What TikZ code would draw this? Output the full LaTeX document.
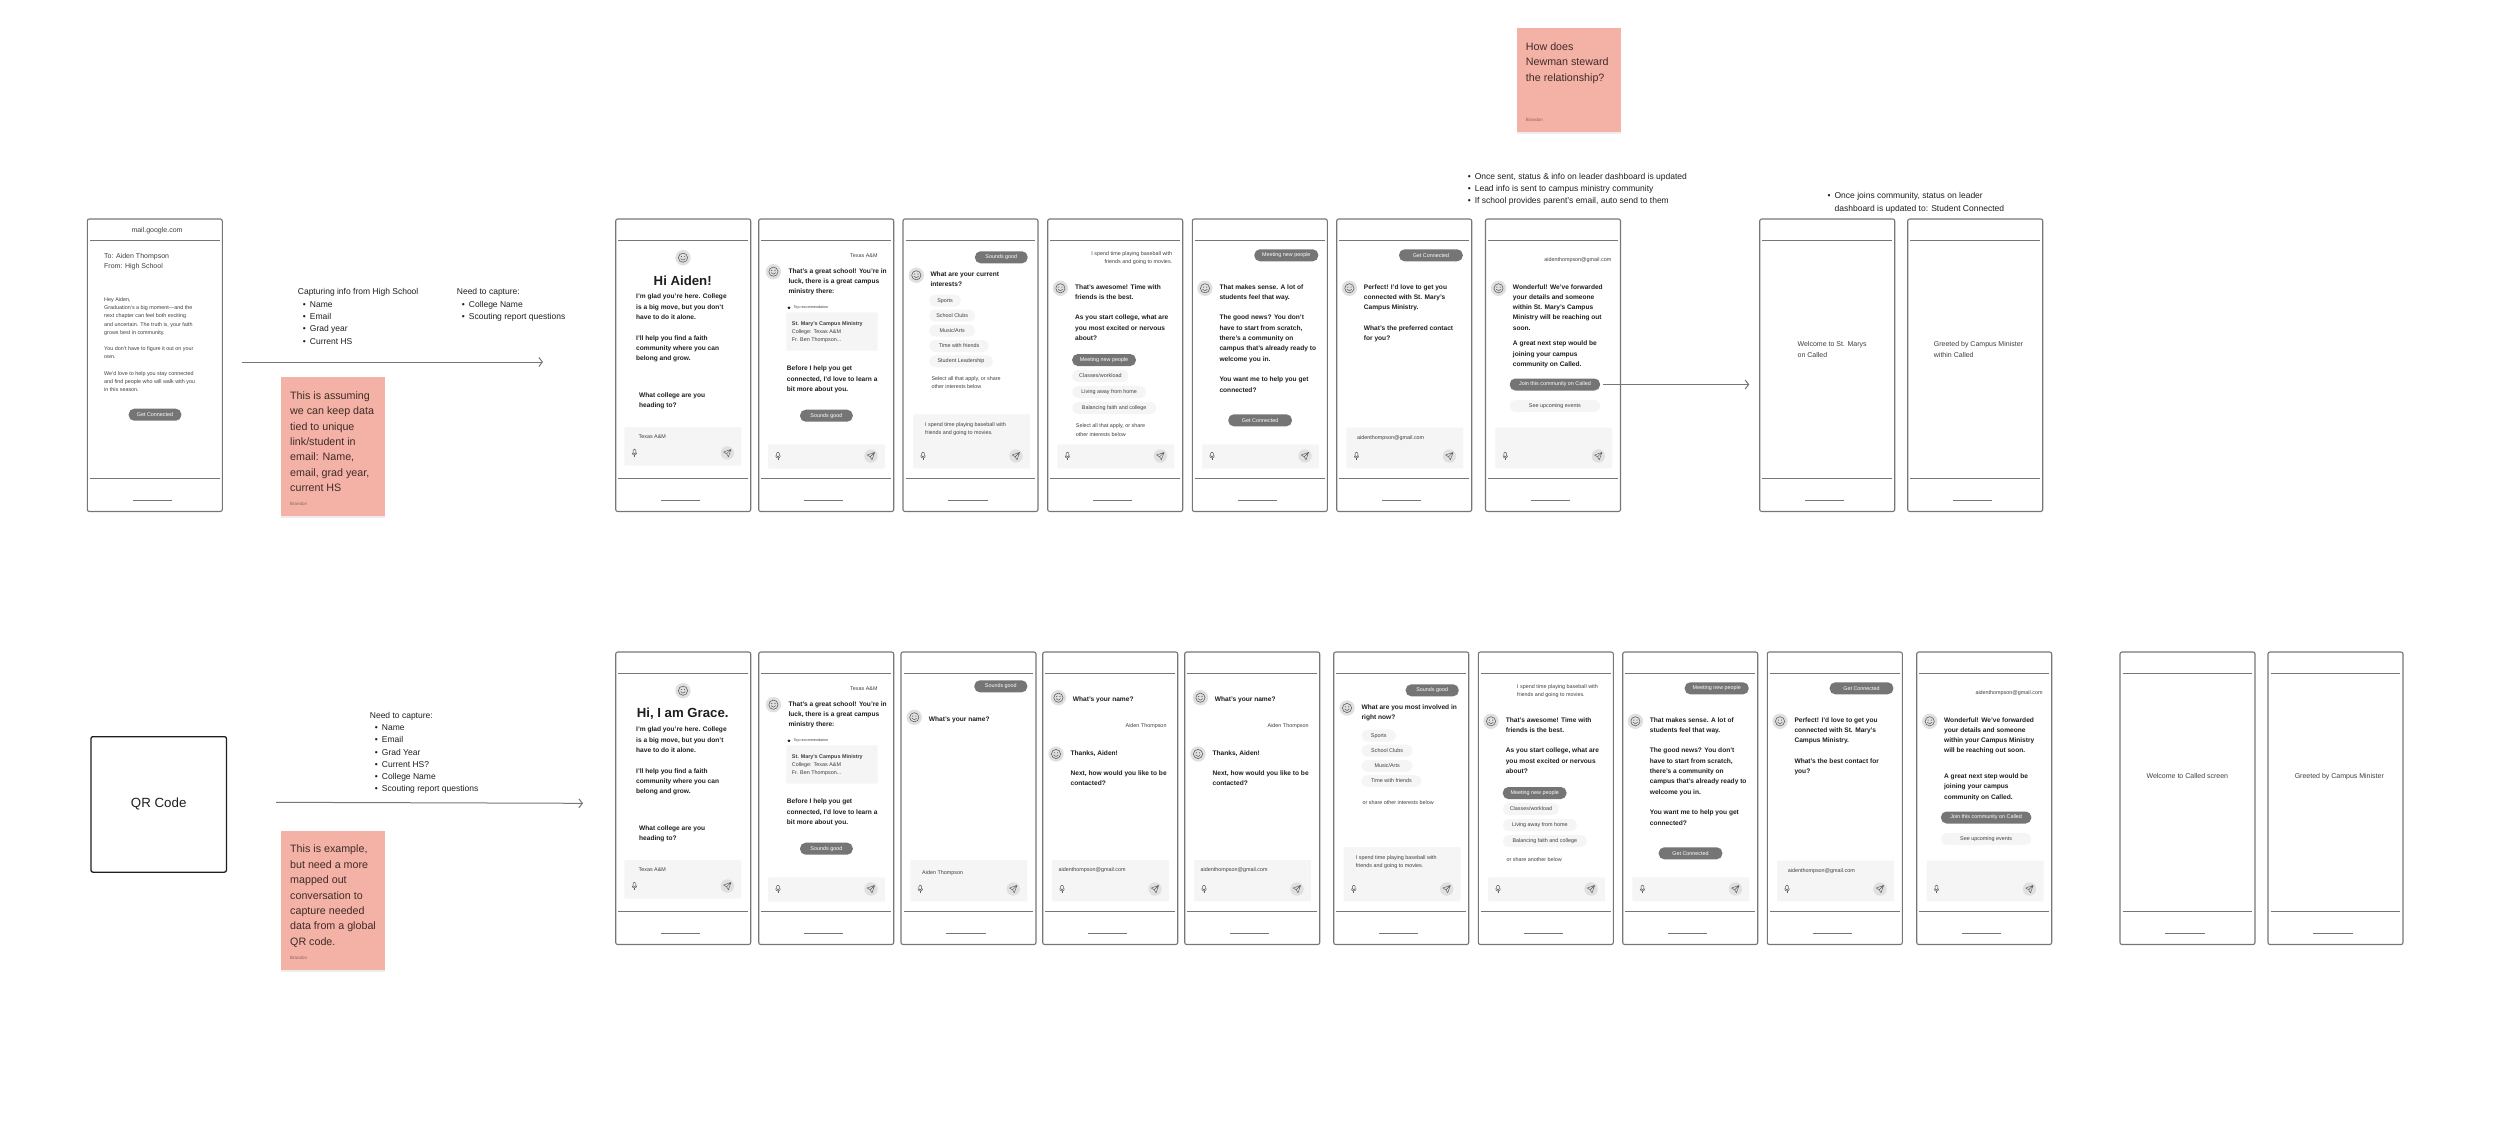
\documentclass[tikz,border=0pt]{standalone}
\usepackage{fontspec}
\setmainfont{Liberation Sans}
\usetikzlibrary{arrows.meta,shapes.geometric}
\definecolor{framegray}{RGB}{118,118,118}
\definecolor{btngray}{RGB}{117,117,117}
\definecolor{chipgray}{RGB}{245,245,245}
\definecolor{avatargray}{RGB}{224,224,224}
\definecolor{icongray}{RGB}{90,90,90}
\definecolor{textdark}{RGB}{30,30,30}
\definecolor{textsoft}{RGB}{62,62,62}
\definecolor{stickypink}{RGB}{244,177,165}
\definecolor{stickytext}{RGB}{62,44,42}
\definecolor{stickyname}{RGB}{140,100,94}
\tikzset{
  msgtext/.style={anchor=north west,align=left,inner sep=0pt,yshift=3.2pt,text=textdark,
    font=\fontsize{6.6}{10.3}\selectfont\bfseries,execute at begin node=\strut},
  smalltext/.style={anchor=north west,align=left,inner sep=0pt,yshift=2.3pt,text=textsoft,
    font=\fontsize{5.4}{8.2}\selectfont,execute at begin node=\strut},
  smallright/.style={smalltext,anchor=north east,align=right},
  plaintext/.style={anchor=north west,align=left,inner sep=0pt,yshift=2.2pt,text=textsoft,
    font=\fontsize{7}{10.3}\selectfont,execute at begin node=\strut},
  notetext/.style={anchor=north west,align=left,inner sep=0pt,yshift=2.2pt,text=textdark,
    font=\fontsize{8.5}{12.3}\selectfont,execute at begin node=\strut},
  titletext/.style={inner sep=0pt,text=textdark,font=\fontsize{13.2}{16}\selectfont\bfseries},
  btn/.style={fill=btngray,rounded corners=5.5pt,text=white,inner sep=0pt,minimum height=12pt,
    font=\fontsize{5.4}{8.2}\selectfont},
  chip/.style={fill=chipgray,rounded corners=5.5pt,text=textsoft,inner sep=0pt,minimum height=12pt,
    anchor=west,font=\fontsize{5.4}{8.2}\selectfont},
  chipdark/.style={chip,fill=btngray,text=white},
  sticky/.style={fill=stickypink,anchor=north west,inner sep=0pt,minimum width=103.7pt},
  stickyshade/.style={fill=black,opacity=.07},
  stickybody/.style={anchor=north west,align=left,inner sep=0pt,yshift=2.4pt,text=stickytext,
    font=\fontsize{10.7}{15.4}\selectfont,execute at begin node=\strut},
  stickyby/.style={anchor=west,inner sep=0pt,text=stickyname,font=\fontsize{4.5}{6}\selectfont},
  flow/.style={-{Straight Barb[length=3.5pt,width=9pt]},framegray,line width=1pt},
  pics/smiley/.style={code={
    \fill[avatargray] (0,0) circle (7.7);
    \draw[icongray,line width=.55pt] (0,0) circle (4.6);
    \fill[icongray] (-1.6,-1.2) circle (.6);
    \fill[icongray] (1.6,-1.2) circle (.6);
    \draw[icongray,line width=.5pt] (-2.4,.9) .. controls (-1,3) and (1,3) .. (2.4,.9);
  }},
  pics/sendicon/.style={code={
    \fill[avatargray] (0,0) circle (6.7);
    \draw[icongray,line width=.45pt,line join=round]
      (3.6,-3.6) -- (-3.8,-1) -- (-.8,.8) -- (1,3.8) -- cycle (3.6,-3.6) -- (-.8,.8);
  }},
  pics/micicon/.style={code={
    \draw[icongray,line width=.5pt,rounded corners=1.2pt] (-1.4,-3.8) rectangle (1.4,.8);
    \draw[icongray,line width=.5pt] (-2.4,-.4) .. controls (-2.4,2.8) and (2.4,2.8) .. (2.4,-.4);
    \draw[icongray,line width=.5pt] (0,2) -- (0,3.9);
  }},
}
\newcommand{\phoneframe}{%
  \draw[framegray,line width=1.1pt,rounded corners=2pt] (0,0) rectangle (135,292.5);
  \draw[framegray,line width=1pt] (2.7,21.3) -- (132.3,21.3);
  \draw[framegray,line width=1pt] (2.7,259.2) -- (132.3,259.2);
  \draw[framegray,line width=.8pt] (45.3,281) -- (84.7,281);
}
\newcommand{\inputbar}[4]{%
  \fill[chipgray,rounded corners=1pt] (#1,#2) rectangle (#1+117,#3);
  \pic at (#1+10,#4) {micicon};
  \pic at (#1+103,#4) {sendicon};
}
\newcommand{\bul}[1]{\hspace*{5pt}\makebox[7pt][l]{\textbullet}#1}
% Screens that come back in both flows
\newcommand{\welcomescreen}[2]{%
  \pic at (67.3,38.7) {smiley};
  \node[titletext] (#1title) at (67,61.3) {#2};
  \node[msgtext] (#1intro) at (20.3,78.2)
    {I'm glad you're here. College\\is a big move, but you don't\\have to do it alone.\\[10.3pt]
     I'll help you find a faith\\community where you can\\belong and grow.};
  \node[msgtext] (#1ask) at (23.3,176.5) {What college are you\\heading to?};
  \inputbar{8.7}{208}{246.5}{234}
  \node[smalltext] (#1typed) at (22.7,216) {Texas A\&M};
}
\newcommand{\schoolscreen}[1]{%
  \node[smallright] (#1reply) at (119,34.7) {Texas A\&M};
  \pic at (14.7,52.7) {smiley};
  \node[msgtext] (#1great) at (29.7,52.3)
    {That's a great school! You're in\\luck, there is a great campus\\ministry there:};
  \node[star,star points=5,star point ratio=2.3,fill=textdark,inner sep=0pt,minimum size=3.4pt]
    (#1star) at (30.3,88.7) {};
  \node[anchor=west,inner sep=0pt,text=textsoft,font=\fontsize{3.7}{5}\selectfont]
    (#1top) at (34.7,88.7) {Top recommendation};
  \fill[chipgray,rounded corners=1pt] (27.7,93.3) rectangle (119,131.7);
  \node[smalltext] (#1card) at (33,104.3)
    {\textbf{St. Mary's Campus Ministry}\\College: Texas A\&M\\Fr. Ben Thompson...};
  \node[msgtext] (#1before) at (28,150)
    {Before I help you get\\connected, I'd love to learn a\\bit more about you.};
  \node[btn,minimum width=52.7pt] (#1good) at (67.7,196.7) {Sounds good};
  \inputbar{9.3}{225.3}{249.7}{237}
}
\newcommand{\contactscreen}[1]{%
  \pic at (15.7,45.7) {smiley};
  \node[msgtext] (#1name) at (30,45.3) {What's your name?};
  \node[smallright] (#1reply) at (124,72.3) {Aiden Thompson};
  \pic at (13.3,102) {smiley};
  \node[msgtext] (#1thanks) at (27.7,101.3)
    {Thanks, Aiden!\\[10.3pt]Next, how would you like to be\\contacted?};
  \inputbar{9.3}{208}{249.3}{237}
  \node[smalltext] (#1typed) at (15.7,215.7) {aidenthompson@gmail.com};
}
\newcommand{\awesomemsg}[1]{%
  \pic at (12.7,69.3) {smiley};
  \node[msgtext] (#1msg) at (27.3,68.3)
    {That's awesome! Time with\\friends is the best.\\[10.3pt]
     As you start college, what are\\you most excited or nervous\\about?};
  \node[chipdark,minimum width=63.7pt] (#1meet) at (24.3,141) {Meeting new people};
  \node[chip,minimum width=56.3pt] (#1work) at (24.3,157) {Classes/workload};
  \node[chip,minimum width=74pt] (#1home) at (24.3,173) {Living away from home};
  \node[chip,minimum width=84pt] (#1faith) at (24.3,189) {Balancing faith and college};
  \inputbar{9.7}{225.3}{249.3}{237}
}
\newcommand{\goodnewsscreen}[1]{%
  \node[btn,minimum width=64pt] (#1meet) at (94,36.3) {Meeting new people};
  \pic at (12.7,69.3) {smiley};
  \node[msgtext] (#1msg) at (27,68.3)
    {That makes sense. A lot of\\students feel that way.\\[10.3pt]
     The good news? You don't\\have to start from scratch,\\there's a community on\\campus that's already ready to\\welcome you in.\\[10.3pt]
     You want me to help you get\\connected?};
  \node[btn,minimum width=63.7pt] (#1conn) at (67.8,201.3) {Get Connected};
  \inputbar{9.7}{225.3}{249.3}{237}
}
\newcommand{\perfectscreen}[3]{%
  \node[btn,minimum width=63.7pt] (#1conn) at (94.2,36.3) {Get Connected};
  \pic at (12.7,69.3) {smiley};
  \node[msgtext] (#1msg) at (27,68.3)
    {Perfect! I'd love to get you\\connected with St. Mary's\\Campus Ministry.\\[10.3pt]#2\\#3};
  \inputbar{9.7}{208.5}{249.3}{237}
  \node[smalltext] (#1typed) at (20.3,216.8) {aidenthompson@gmail.com};
}
\newcommand{\forwardedscreen}[2]{%
  \node[smallright] (#1reply) at (126,38.7) {aidenthompson@gmail.com};
  \pic at (13,69.3) {smiley};
  \node[msgtext] (#1msg) at (27.2,68.3) {#2};
  \node[btn,minimum width=90.3pt] (#1join) at (69.4,165.5) {Join this community on Called};
  \node[chip,anchor=center,minimum width=90.3pt] (#1events) at (69.4,187) {See upcoming events};
  \inputbar{9.8}{208.5}{249.3}{237}
}

\begin{document}
\begin{tikzpicture}[x=1pt,y=-1pt]
  \useasboundingbox (0,0) rectangle (2500,1125);

  % Email flow
  \begin{scope}[shift={(87.3,219)}]
    \phoneframe
    \node[inner sep=0pt,text=textsoft,font=\fontsize{7}{10.3}\selectfont] (mailurl) at (69.7,11.7) {mail.google.com};
    \node[plaintext] (mailto) at (16.7,36.3) {To: Aiden Thompson\\From: High School};
    \node[smalltext] (mailbody) at (16.7,80.7)
      {Hey Aiden,\\Graduation's a big moment---and the\\next chapter can feel both exciting\\and uncertain. The truth is, your faith\\grows best in community.\\[8.2pt]
       You don't have to figure it out on your\\own.\\[8.2pt]
       We'd love to help you stay connected\\and find people who will walk with you\\in this season.};
    \node[btn,minimum width=52.7pt] (mailbtn) at (67.7,195.7) {Get Connected};
  \end{scope}

  \node[notetext] (capturehs) at (297.7,290.7)
    {Capturing info from High School\\\bul{Name}\\\bul{Email}\\\bul{Grad year}\\\bul{Current HS}};
  \node[notetext] (capturecollege) at (456.7,290.7)
    {Need to capture:\\\bul{College Name}\\\bul{Scouting report questions}};
  \coordinate (mailout) at (241.7,362);
  \coordinate (chatin) at (543,362);
  \draw[flow] (mailout) -- (chatin);

  \fill[stickyshade] (281,379) rectangle (384.7,517.5);
  \node[sticky,minimum height=138.7pt] (noteassume) at (281,377) {};
  \node[stickybody] (noteassumetext) at (290,393.7)
    {This is assuming\\we can keep data\\tied to unique\\link/student in\\email: Name,\\email, grad year,\\current HS};
  \node[stickyby] (noteassumeby) at (290,504) {Brandon};

  \begin{scope}[shift={(615.7,219)}]
    \phoneframe
    \welcomescreen{pa}{Hi Aiden!}
  \end{scope}
  \begin{scope}[shift={(758.7,219)}]
    \phoneframe
    \schoolscreen{pb}
  \end{scope}
  \begin{scope}[shift={(903,219)}]
    \phoneframe
    \node[btn,minimum width=52.7pt] (pcgood) at (98.3,38.3) {Sounds good};
    \pic at (13.3,56.3) {smiley};
    \node[msgtext] (pcask) at (27.3,55.3) {What are your current\\interests?};
    \node[chip,minimum width=31.7pt] (pcsport) at (26,81.7) {Sports};
    \node[chip,minimum width=46pt] (pcclub) at (26,96.7) {School Clubs};
    \node[chip,minimum width=46pt] (pcmusic) at (26,111.7) {Music/Arts};
    \node[chip,minimum width=59.7pt] (pcfriend) at (26,127) {Time with friends};
    \node[chip,minimum width=63.7pt] (pclead) at (26,142.3) {Student Leadership};
    \node[smalltext] (pcselect) at (28.3,159.3) {Select all that apply, or share\\other interests below};
    \inputbar{10}{195.3}{249.3}{237}
    \node[smalltext] (pctyped) at (22,205.7) {I spend time playing baseball with\\friends and going to movies.};
  \end{scope}
  \begin{scope}[shift={(1047.7,219)}]
    \phoneframe
    \node[smallright] (pdreply) at (124.7,34.7) {I spend time playing baseball with\\friends and going to movies.};
    \awesomemsg{pd}
    \node[smalltext] (pdselect) at (28,207) {Select all that apply, or share\\other interests below};
  \end{scope}
  \begin{scope}[shift={(1192.3,219)}]
    \phoneframe
    \goodnewsscreen{pe}
  \end{scope}
  \begin{scope}[shift={(1336.7,219)}]
    \phoneframe
    \perfectscreen{pf}{What's the preferred contact}{for you?}
  \end{scope}
  \begin{scope}[shift={(1485.5,219)}]
    \phoneframe
    \forwardedscreen{pg}{Wonderful! We've forwarded\\your details and someone\\within St. Mary's Campus\\Ministry will be reaching out\\soon.\\[5.2pt]
      A great next step would be\\joining your campus\\community on Called.}
  \end{scope}

  \node[notetext] (notesent) at (1462.6,175)
    {\bul{Once sent, status \& info on leader dashboard is updated}\\\bul{Lead info is sent to campus ministry community}\\\bul{If school provides parent's email, auto send to them}};
  \node[notetext] (notejoin) at (1822.4,194.7)
    {\bul{Once joins community, status on leader}\\\hspace*{12pt}dashboard is updated to: Student Connected};

  \coordinate (calledin) at (1749.3,384.5);
  \draw[flow,shorten <=2.5pt] (pgjoin) -- (calledin);

  \begin{scope}[shift={(1759.7,219)}]
    \phoneframe
    \node[plaintext] (phwelcome) at (37.7,124.7) {Welcome to St. Marys\\on Called};
  \end{scope}
  \begin{scope}[shift={(1907.7,219)}]
    \phoneframe
    \node[plaintext] (pigreet) at (26,124.7) {Greeted by Campus Minister\\within Called};
  \end{scope}

  \fill[stickyshade] (1517,30) rectangle (1620.7,134);
  \node[sticky,minimum height=104pt] (notesteward) at (1517,28) {};
  \node[stickybody] (notestewardtext) at (1525.7,45) {How does\\Newman steward\\the relationship?};
  \node[stickyby] (notestewardby) at (1525.7,120) {Brandon};

  % QR flow
  \node[draw=textdark,line width=1.3pt,rounded corners=2pt,minimum width=135.5pt,minimum height=135.5pt,
    inner sep=0pt,anchor=north west,font=\fontsize{13.3}{16}\selectfont,text=textdark] (qrbox) at (90.3,736) {QR Code};

  \node[notetext] (captureqr) at (369.7,714)
    {Need to capture:\\\bul{Name}\\\bul{Email}\\\bul{Grad Year}\\\bul{Current HS?}\\\bul{College Name}\\\bul{Scouting report questions}};
  \coordinate (qrout) at (276,802.3);
  \coordinate (qrin) at (583,803.3);
  \draw[flow] (qrout) -- (qrin);

  \fill[stickyshade] (281,833) rectangle (384.7,971.5);
  \node[sticky,minimum height=138.7pt] (noteglobal) at (281,831) {};
  \node[stickybody] (noteglobaltext) at (290,847.3)
    {This is example,\\but need a more\\mapped out\\conversation to\\capture needed\\data from a global\\QR code.};
  \node[stickyby] (noteglobalby) at (290,958) {Brandon};

  \begin{scope}[shift={(615.7,652)}]
    \phoneframe
    \welcomescreen{qa}{Hi, I am Grace.}
  \end{scope}
  \begin{scope}[shift={(758.7,652)}]
    \phoneframe
    \schoolscreen{qb}
  \end{scope}
  \begin{scope}[shift={(901,652)}]
    \phoneframe
    \node[btn,minimum width=53pt] (qcgood) at (99.8,34.3) {Sounds good};
    \pic at (13.3,65.3) {smiley};
    \node[msgtext] (qcask) at (27.7,65) {What's your name?};
    \inputbar{9.3}{208}{249.3}{237}
    \node[smalltext] (qctyped) at (21,218.7) {Aiden Thompson};
  \end{scope}
  \begin{scope}[shift={(1042.7,652)}]
    \phoneframe
    \contactscreen{qd}
  \end{scope}
  \begin{scope}[shift={(1184.7,652)}]
    \phoneframe
    \contactscreen{qe}
  \end{scope}
  \begin{scope}[shift={(1333.7,652)}]
    \phoneframe
    \node[btn,minimum width=53pt] (qfgood) at (98.5,38.3) {Sounds good};
    \pic at (13.3,56) {smiley};
    \node[msgtext] (qfask) at (27.7,55.3) {What are you most involved in\\right now?};
    \node[chip,minimum width=34.3pt] (qfsport) at (27.7,83.7) {Sports};
    \node[chip,minimum width=51pt] (qfclub) at (27.7,98.7) {School Clubs};
    \node[chip,minimum width=51pt] (qfmusic) at (27.7,114) {Music/Arts};
    \node[chip,minimum width=59.7pt] (qffriend) at (27.7,129) {Time with friends};
    \node[smalltext] (qfshare) at (28.7,149.3) {or share other interests below};
    \inputbar{10}{195}{249.3}{237}
    \node[smalltext] (qftyped) at (22,205.3) {I spend time playing baseball with\\friends and going to movies.};
  \end{scope}
  \begin{scope}[shift={(1478.3,652)}]
    \phoneframe
    \node[smalltext] (qgreply) at (38.7,34.7) {I spend time playing baseball with\\friends and going to movies.};
    \awesomemsg{qg}
    \node[smalltext] (qgshare) at (28,206.3) {or share another below};
  \end{scope}
  \begin{scope}[shift={(1622.7,652)}]
    \phoneframe
    \goodnewsscreen{qh}
  \end{scope}
  \begin{scope}[shift={(1767.3,652)}]
    \phoneframe
    \perfectscreen{qi}{What's the best contact for}{you?}
  \end{scope}
  \begin{scope}[shift={(1916.7,652)}]
    \phoneframe
    \forwardedscreen{qj}{Wonderful! We've forwarded\\your details and someone\\within your Campus Ministry\\will be reaching out soon.\\[15.2pt]
      A great next step would be\\joining your campus\\community on Called.}
  \end{scope}
  \begin{scope}[shift={(2120,652)}]
    \phoneframe
    \node[inner sep=0pt,text=textsoft,font=\fontsize{7}{10.3}\selectfont] (qkwelcome) at (67.3,124.3) {Welcome to Called screen};
  \end{scope}
  \begin{scope}[shift={(2268,652)}]
    \phoneframe
    \node[inner sep=0pt,text=textsoft,font=\fontsize{7}{10.3}\selectfont] (qlgreet) at (71.3,124.3) {Greeted by Campus Minister};
  \end{scope}
\end{tikzpicture}
\end{document}
